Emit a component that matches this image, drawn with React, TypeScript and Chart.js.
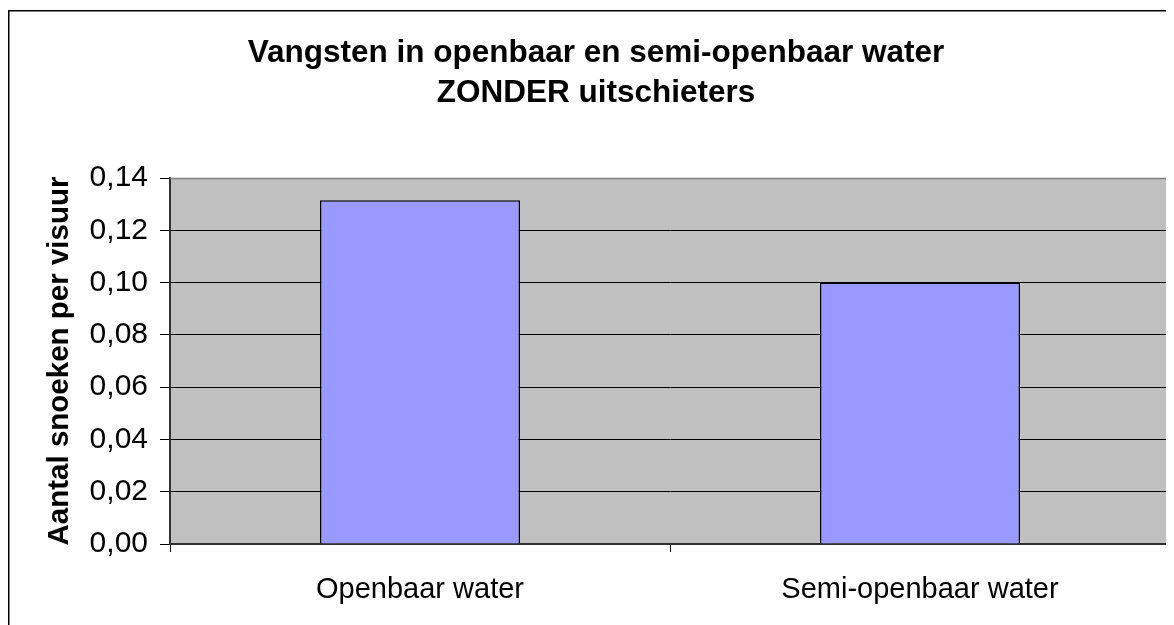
import React, { useEffect, useRef } from "react";
import { Chart, registerables } from "chart.js";

Chart.register(...registerables);

const categories = ["Openbaar water", "Semi-openbaar water"];
const catchValues = [0.1315, 0.1];
const titleLines = ["Vangsten in openbaar en semi-openbaar water", "ZONDER uitschieters"];
const yAxisTitle = "Aantal snoeken per visuur";
const yMin = 0;
const yMax = 0.14;
const yStep = 0.02;

const FONT = "'Liberation Sans', Arial, sans-serif";

const decorPlugin = {
  id: "decor",
  beforeDraw(chart: any) {
    const { ctx, chartArea } = chart;
    ctx.save();
    ctx.fillStyle = "#ffffff";
    ctx.fillRect(0, 0, chart.width, chart.height);
    // outer frame
    ctx.strokeStyle = "#000000";
    ctx.lineWidth = 1.5;
    ctx.strokeRect(0.75, 2.75, chart.width + 50, chart.height + 50);
    // plot area background
    ctx.fillStyle = "#C0C0C0";
    ctx.fillRect(chartArea.left, chartArea.top, chartArea.right - chartArea.left, chartArea.bottom - chartArea.top);
    ctx.restore();
  },
  afterDatasetsDraw(chart: any) {
    const { ctx, chartArea } = chart;
    ctx.save();
    ctx.strokeStyle = "#808080";
    ctx.lineWidth = 1.5;
    ctx.beginPath();
    ctx.moveTo(chartArea.left, chartArea.top + 0.5);
    ctx.lineTo(chartArea.right - 0.5, chartArea.top + 0.5);
    ctx.lineTo(chartArea.right - 0.5, chartArea.bottom);
    ctx.stroke();
    // title
    ctx.fillStyle = "#000000";
    ctx.font = `bold 31.5px ${FONT}`;
    ctx.textAlign = "center";
    ctx.textBaseline = "middle";
    const cx = 588;
    titleLines.forEach((t, i) => ctx.fillText(t, cx, 45 + i * 40));
    ctx.restore();
  },
};

export default function App() {
  const ref = useRef<HTMLCanvasElement>(null);
  useEffect(() => {
    document.body.style.overflow = "hidden";
    document.documentElement.style.overflow = "hidden";
    const chart = new Chart(ref.current as HTMLCanvasElement, {
      type: "bar",
      data: {
        labels: categories,
        datasets: [
          {
            data: catchValues,
            backgroundColor: "#9999FF",
            borderColor: "#000000",
            borderWidth: 1.5,
            barPercentage: 0.4,
            categoryPercentage: 1,
          },
        ],
      },
      plugins: [decorPlugin],
      options: {
        responsive: false,
        animation: false,
        layout: { padding: { top: 170, left: 0, right: 4, bottom: 0 } },
        plugins: {
          legend: { display: false },
          title: { display: false },
          tooltip: { enabled: false },
        },
        scales: {
          x: {
            offset: true,
            afterFit: (s: any) => {
              s.height = 81;
            },
            grid: {
              offset: true,
              drawOnChartArea: false,
              drawTicks: true,
              tickLength: 8,
              color: "#000000",
            },
            border: { display: true, color: "#303030", width: 2 },
            ticks: {
              color: "#000000",
              padding: 21,
              font: { family: FONT, size: 29 },
              maxRotation: 0,
            },
          },
          y: {
            min: yMin,
            max: yMax,
            afterFit: (s: any) => {
              s.width = 162;
            },
            grid: {
              color: (c: any) => (c.tick && Math.abs(c.tick.value - yMax) < 1e-9 ? "#808080" : "#000000"),
              lineWidth: 1,
              tickLength: 10,
              tickColor: "#000000",
            },
            border: { display: true, color: "#303030", width: 2 },
            ticks: {
              stepSize: yStep,
              color: "#000000",
              padding: 12,
              font: { family: FONT, size: 30 },
              callback: (v: any) => Number(v).toFixed(2).replace(".", ","),
            },
            title: {
              display: true,
              text: yAxisTitle,
              color: "#000000",
              font: { family: FONT, size: 29.5, weight: "bold" },
              padding: { top: 34, bottom: 0 },
            },
          },
        },
      },
    });
    return () => chart.destroy();
  }, []);
  return (
    <div style={{ width: 1166, height: 617 }}>
      <canvas ref={ref} width={1166} height={617} />
    </div>
  );
}
